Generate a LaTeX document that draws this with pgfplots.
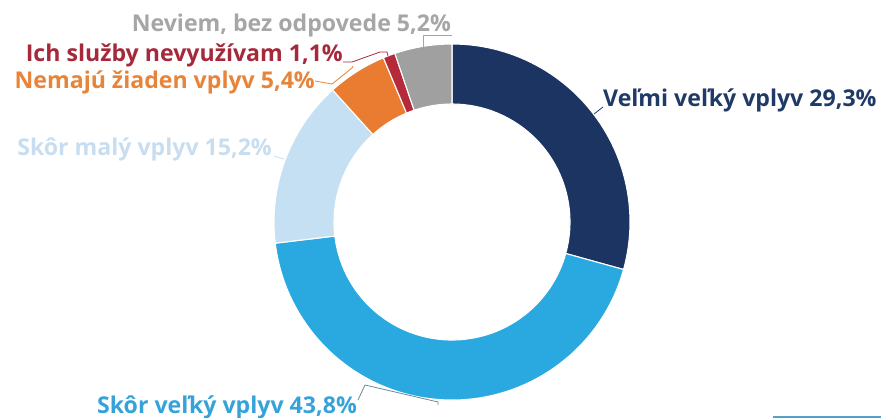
\documentclass[border=0pt]{standalone}
\usepackage{pgfplots}
\pgfplotsset{compat=1.18}
\usepackage{pgfplotstable}
\usepackage{fontspec}
\setmainfont{Open Sans}
\definecolor{seg0}{HTML}{1C3461}
\definecolor{seg1}{HTML}{2AA9E0}
\definecolor{seg2}{HTML}{C5DFF3}
\definecolor{seg3}{HTML}{E97C30}
\definecolor{seg4}{HTML}{B42A3A}
\definecolor{seg5}{HTML}{A0A0A0}
\definecolor{t0}{HTML}{1F3A66}
\definecolor{t1}{HTML}{35A3DA}
\definecolor{t2}{HTML}{C8DEF0}
\definecolor{t3}{HTML}{E8843A}
\definecolor{t4}{HTML}{A5293A}
\definecolor{t5}{HTML}{A6A6A6}
\definecolor{bline}{HTML}{5B9FC9}
\pgfplotstableread[col sep=comma]{
label,value
Veľmi veľký vplyv,29.3
Skôr veľký vplyv,43.8
Skôr malý vplyv,15.2
Nemajú žiaden vplyv,5.4
Ich služby nevyužívam,1.1
Neviem bez odpovede,5.2
}\piedata
\newcommand\lblfont{\fontsize{23.2}{27}\selectfont\bfseries}
\tikzset{lbl/.style={inner sep=0pt, font=\lblfont}}
\begin{document}
\begin{tikzpicture}
\pgfplotstablegetrowsof{\piedata}
\pgfmathtruncatemacro\nrows{\pgfplotsretval-1}
\xdef\cum{0}
\foreach \i in {0,...,\nrows}{
  \pgfplotstablegetelem{\i}{value}\of\piedata
  \let\v\pgfplotsretval
  \pgfmathsetmacro\s{90-3.6*\cum}
  \pgfmathsetmacro\e{90-3.6*(\cum+\v)}
  \expandafter\xdef\csname sA\i\endcsname{\s}
  \expandafter\xdef\csname eA\i\endcsname{\e}
  \pgfmathsetmacro\c{\cum+\v}
  \xdef\cum{\c}
}
\begin{axis}[
  width=881bp, height=418bp, scale only axis,
  xmin=0, xmax=881, ymin=0, ymax=418, y dir=reverse,
  hide axis, clip=false,
]
\coordinate (BL) at (axis cs:0,418);
\coordinate (TR) at (axis cs:881,0);
\pgfplotsinvokeforeach{0,...,5}{
  \fill[fill=seg#1, draw=white, line width=1.1bp, line join=round]
    (axis cs:452,222) ++(\csname sA#1\endcsname:178bp)
    arc[start angle=\csname sA#1\endcsname, end angle=\csname eA#1\endcsname, radius=178bp]
    -- ++(\csname eA#1\endcsname+180:60bp)
    arc[start angle=\csname eA#1\endcsname, end angle=\csname sA#1\endcsname, radius=118bp]
    -- cycle;
}
% leaders
\draw[t5, line width=0.8bp] (axis cs:423,47) -- (axis cs:423,35) -- (axis cs:452,35);
\draw[t4, line width=0.8bp] (axis cs:343,62) -- (axis cs:352,62) -- (axis cs:380,52) -- (axis cs:387,52) -- (axis cs:388,56);
\draw[t3, line width=0.8bp] (axis cs:315,81) -- (axis cs:332,84) -- (axis cs:352,68) -- (axis cs:353,66);
\draw[t2, line width=0.8bp] (axis cs:274,156) -- (axis cs:284,159);
\draw[t0, line width=0.8bp] (axis cs:594,114) -- (axis cs:603,107);
\draw[gray!70!t1, line width=0.8bp] (axis cs:358,400) -- (axis cs:365,385) -- (axis cs:438,402) -- (axis cs:438,405);
% labels
\node[lbl, anchor=base east, text=t5] at (axis cs:451,32) {Neviem, bez odpovede 5,2\%};
\node[lbl, anchor=base east, text=t4] at (axis cs:343,62) {Ich služby nevyužívam 1,1\%};
\node[lbl, anchor=base east, text=t3] at (axis cs:315,89) {Nemajú žiaden vplyv 5,4\%};
\node[lbl, anchor=base east, text=t2] at (axis cs:272,155) {Skôr malý vplyv 15,2\%};
\node[lbl, anchor=base west, text=t0] at (axis cs:603,107) {Veľmi veľký vplyv 29,3\%};
\node[lbl, anchor=base east, text=t1] at (axis cs:357,413) {Skôr veľký vplyv 43,8\%};
\draw[bline, line width=2bp] (axis cs:773,416.5) -- (axis cs:881,416.5);
\end{axis}
\pgfresetboundingbox
\path (BL) rectangle (TR);
\end{tikzpicture}
\end{document}
